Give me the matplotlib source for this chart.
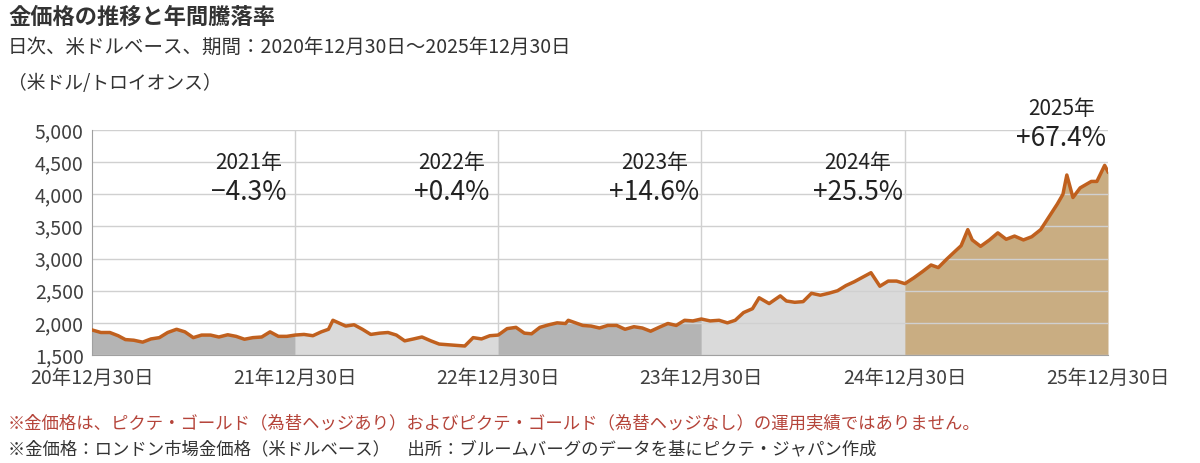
import matplotlib
matplotlib.use("Agg")
import matplotlib.pyplot as plt
import pandas as pd

plt.rcParams['font.family'] = ['Noto Sans CJK JP', 'DejaVu Sans']

dates = ["2020-12-30","2021-01-15","2021-01-31","2021-02-15","2021-02-28","2021-03-15","2021-03-31","2021-04-15","2021-04-30",
"2021-05-15","2021-05-31","2021-06-15","2021-06-30","2021-07-15","2021-07-31","2021-08-15","2021-08-31","2021-09-15","2021-09-30",
"2021-10-15","2021-10-31","2021-11-15","2021-11-30","2021-12-15","2021-12-30",
"2022-01-15","2022-01-31","2022-02-15","2022-02-28","2022-03-08","2022-03-31","2022-04-15","2022-04-30","2022-05-15","2022-05-31",
"2022-06-15","2022-06-30","2022-07-15","2022-07-31","2022-08-15","2022-08-31","2022-09-15","2022-09-30","2022-10-15","2022-10-31",
"2022-11-15","2022-11-30","2022-12-15","2022-12-30",
"2023-01-15","2023-01-31","2023-02-15","2023-02-28","2023-03-15","2023-03-31","2023-04-15","2023-04-30","2023-05-05","2023-05-31",
"2023-06-15","2023-06-30","2023-07-15","2023-07-31","2023-08-15","2023-08-31","2023-09-15","2023-09-30","2023-10-15","2023-10-31",
"2023-11-15","2023-11-30","2023-12-15","2023-12-30",
"2024-01-15","2024-01-31","2024-02-15","2024-02-29","2024-03-15","2024-03-31","2024-04-12","2024-04-30","2024-05-20","2024-05-31",
"2024-06-15","2024-06-30","2024-07-15","2024-07-31","2024-08-15","2024-08-31","2024-09-15","2024-09-30","2024-10-30","2024-11-15",
"2024-11-30","2024-12-15","2024-12-30",
"2025-01-15","2025-01-31","2025-02-15","2025-02-28","2025-03-15","2025-03-31","2025-04-10","2025-04-22","2025-04-30","2025-05-15",
"2025-05-31","2025-06-15","2025-06-30","2025-07-15","2025-07-31","2025-08-15","2025-08-31","2025-09-15","2025-09-30","2025-10-10",
"2025-10-17","2025-10-28","2025-11-10","2025-11-30","2025-12-10","2025-12-24","2025-12-30"]
prices = [1890,1850,1850,1800,1740,1730,1700,1750,1770,
1850,1900,1860,1770,1810,1810,1780,1815,1790,1745,
1770,1780,1860,1790,1790,1810,
1820,1800,1860,1900,2040,1950,1970,1900,1820,1840,
1850,1810,1720,1750,1780,1720,1670,1660,1650,1640,
1770,1750,1800,1810,
1910,1930,1840,1830,1930,1970,2000,1990,2040,1960,
1950,1920,1960,1960,1900,1940,1920,1870,1930,1990,
1960,2040,2030,2060,
2030,2040,2000,2040,2160,2220,2390,2300,2420,2340,
2320,2330,2460,2430,2460,2500,2580,2640,2780,2570,
2650,2650,2610,
2700,2800,2900,2860,2990,3120,3200,3450,3290,3190,
3290,3400,3300,3350,3290,3340,3450,3650,3850,4000,
4300,3950,4100,4200,4200,4450,4350]

s = pd.Series(prices, index=pd.to_datetime(dates))
bounds = pd.to_datetime(["2020-12-30","2021-12-30","2022-12-30","2023-12-30","2024-12-30","2025-12-30"])
fills = ["#b4b4b4","#dadada","#b4b4b4","#dadada","#c9ad82"]
years = ["2021年","2022年","2023年","2024年","2025年"]
rets = ["−4.3%","+0.4%","+14.6%","+25.5%","+67.4%"]
tick_labels = ["20年12月30日","21年12月30日","22年12月30日","23年12月30日","24年12月30日","25年12月30日"]

fig = plt.figure(figsize=(12,4.63), dpi=100)
ax = fig.add_axes([92/1200, 1-355/463, 1016/1200, 225/463])
for i in range(5):
    seg = s[(s.index >= bounds[i]) & (s.index <= bounds[i+1])]
    ax.fill_between(seg.index, 1500, seg.values, color=fills[i], lw=0, zorder=1)
ax.plot(s.index, s.values, color="#c0601e", lw=2.5, zorder=3)
ax.set_ylim(1500, 5000)
ax.set_xlim(bounds[0], bounds[-1])
ax.set_yticks(range(1500, 5001, 500))
ax.set_yticklabels([f"{v:,}" for v in range(1500, 5001, 500)], fontsize=14, color="#404040")
ax.set_xticks(bounds)
ax.set_xticklabels(tick_labels, fontsize=14, color="#404040")
ax.grid(axis='y', color="#d0d0d0", lw=1, zorder=0)
for b in bounds[1:-1]:
    ax.axvline(b, color="#d0d0d0", lw=1, zorder=0)
for sp in ["top","right"]:
    ax.spines[sp].set_visible(False)
ax.spines["left"].set_color("#a0a0a0")
ax.spines["bottom"].set_color("#a0a0a0")
ax.tick_params(axis='y', length=0, pad=6)
ax.tick_params(axis='x', length=0, pad=9)

for i in range(5):
    x = bounds[i] + (bounds[i+1]-bounds[i]) * 0.77
    if i < 4:
        ax.text(x, 4480, years[i], ha="center", va="center", fontsize=15, color="#222222")
        ax.text(x, 4020, rets[i], ha="center", va="center", fontsize=19, color="#222222")
    else:
        ax.text(x, 5330, years[i], ha="center", va="center", fontsize=15, color="#222222", clip_on=False)
        ax.text(x, 4870, rets[i], ha="center", va="center", fontsize=19, color="#222222", clip_on=False)

fig.text(8/1200, 1-17/463, "金価格の推移と年間騰落率", fontsize=16, fontweight="bold", color="#333333", va="center")
fig.text(8/1200, 1-47/463, "日次、米ドルベース、期間：2020年12月30日～2025年12月30日", fontsize=14, color="#333333", va="center")
fig.text(8/1200, 1-84/463, "（米ドル/トロイオンス）", fontsize=13.5, color="#333333", va="center")
fig.text(8/1200, 1-423/463, "※金価格は、ピクテ・ゴールド（為替ヘッジあり）およびピクテ・ゴールド（為替ヘッジなし）の運用実績ではありません。", fontsize=12.5, color="#b5443a", va="center")
fig.text(8/1200, 1-449/463, "※金価格：ロンドン市場金価格（米ドルベース）　出所：ブルームバーグのデータを基にピクテ・ジャパン作成", fontsize=12.5, color="#333333", va="center")
fig.savefig("out.png", dpi=100)
